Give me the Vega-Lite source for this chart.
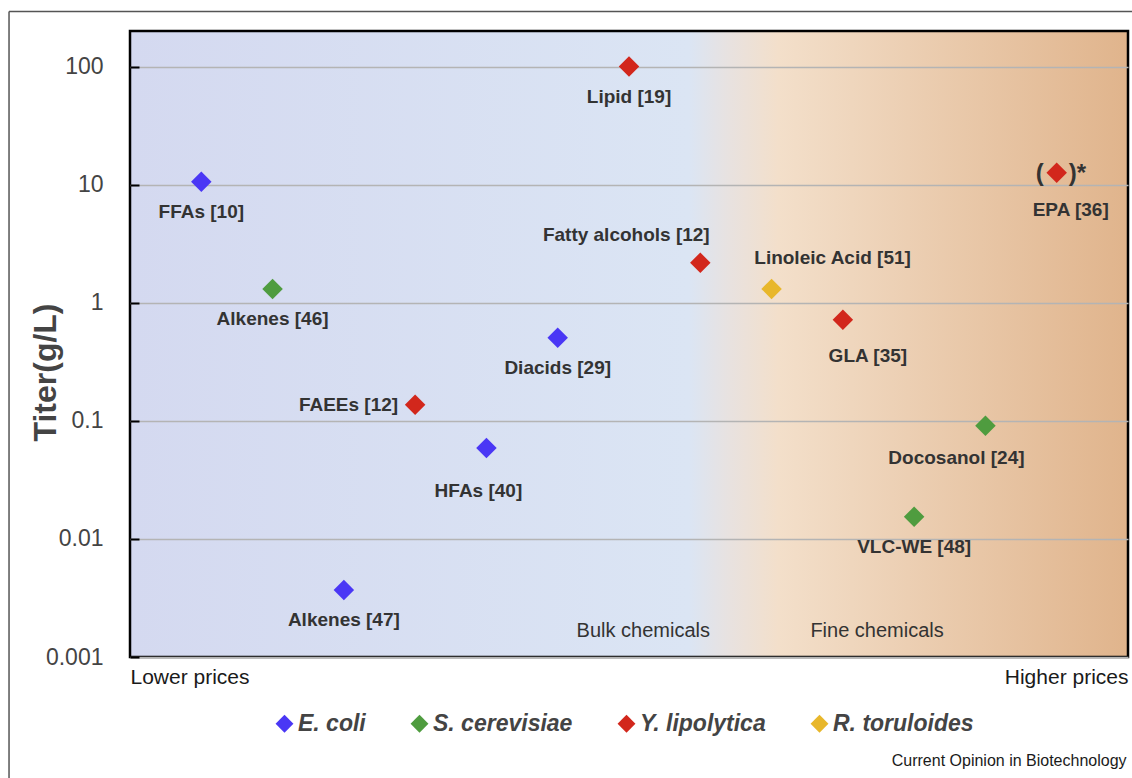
{
  "$schema": "https://vega.github.io/schema/vega-lite/v6.json",
  "width": 998,
  "height": 626,
  "autosize": "none",
  "padding": {"left": 130, "top": 31, "right": 4, "bottom": 121},
  "background": "white",
  "view": {
    "stroke": "#000000",
    "strokeWidth": 2.5,
    "fill": {
      "gradient": "linear",
      "x1": 0, "y1": 0, "x2": 1, "y2": 0,
      "stops": [
        {"offset": 0, "color": "#d4d9f0"},
        {"offset": 0.56, "color": "#dbe5f4"},
        {"offset": 0.6, "color": "#e8e2e0"},
        {"offset": 0.65, "color": "#f3dfca"},
        {"offset": 1, "color": "#e0b48c"}
      ]
    }
  },
  "config": {
    "font": "Liberation Sans",
    "text": {"font": "Liberation Sans"}
  },
  "data": {
    "values": [
      {"product": "FFAs [10]", "organism": "E. coli", "pos": 1, "titer": 10.6},
      {"product": "Alkenes [46]", "organism": "S. cerevisiae", "pos": 2, "titer": 1.31},
      {"product": "Alkenes [47]", "organism": "E. coli", "pos": 3, "titer": 0.0037},
      {"product": "FAEEs [12]", "organism": "Y. lipolytica", "pos": 4, "titer": 0.137},
      {"product": "HFAs [40]", "organism": "E. coli", "pos": 5, "titer": 0.059},
      {"product": "Diacids [29]", "organism": "E. coli", "pos": 6, "titer": 0.505},
      {"product": "Lipid [19]", "organism": "Y. lipolytica", "pos": 7, "titer": 100},
      {"product": "Fatty alcohols [12]", "organism": "Y. lipolytica", "pos": 8, "titer": 2.18},
      {"product": "Linoleic Acid [51]", "organism": "R. toruloides", "pos": 9, "titer": 1.31},
      {"product": "GLA [35]", "organism": "Y. lipolytica", "pos": 10, "titer": 0.718},
      {"product": "VLC-WE [48]", "organism": "S. cerevisiae", "pos": 11, "titer": 0.0154},
      {"product": "Docosanol [24]", "organism": "S. cerevisiae", "pos": 12, "titer": 0.0907},
      {"product": "EPA [36]", "organism": "Y. lipolytica", "pos": 13, "titer": 12.6}
    ]
  },
  "encoding": {
    "x": {
      "field": "pos",
      "type": "quantitative",
      "scale": {"domain": [0, 14], "nice": false, "zero": false},
      "axis": {
        "title": null,
        "values": [0, 14],
        "labelExpr": "datum.value == 0 ? 'Lower prices' : 'Higher prices'",
        "labelAlign": {"expr": "datum.value == 0 ? 'left' : 'right'"},
        "labelBaseline": "top",
        "labelPadding": 9,
        "labelFontSize": 21,
        "labelColor": "#1a1a1a",
        "labelFont": "Liberation Sans",
        "ticks": false,
        "domain": false,
        "grid": false
      }
    },
    "y": {
      "field": "titer",
      "type": "quantitative",
      "scale": {"type": "log", "domain": [0.001, 200], "nice": false},
      "axis": {
        "title": "Titer(g/L)",
        "titleFontSize": 32,
        "titleFontWeight": "bold",
        "titleColor": "#444444",
        "titleFont": "Liberation Sans",
        "titleX": -85,
        "titleY": 341,
        "titleAngle": -90,
        "titleAlign": "center",
        "titleBaseline": "middle",
        "values": [0.001, 0.01, 0.1, 1, 10, 100],
        "format": "~g",
        "labelFontSize": 23,
        "labelColor": "#444444",
        "labelFont": "Liberation Sans",
        "tickSize": -9,
        "tickColor": "#000000",
        "tickWidth": 2,
        "labelPadding": 36,
        "domain": false,
        "grid": true,
        "gridColor": "#b4b4b4",
        "gridWidth": 1.5
      }
    }
  },
  "layer": [
    {
      "transform": [{"filter": "datum.pos == 1"}],
      "mark": {"type": "rule", "clip": false, "color": "#555555", "strokeWidth": 1.5},
      "encoding": {
        "x": {"datum": -1.697, "type": "quantitative"},
        "y": {"datum": 292, "type": "quantitative"},
        "y2": {"datum": 0.0000945}
      }
    },
    {
      "transform": [{"filter": "datum.pos == 1"}],
      "mark": {"type": "rule", "clip": false, "color": "#555555", "strokeWidth": 1.5},
      "encoding": {
        "x": {"datum": -1.697, "type": "quantitative"},
        "x2": {"datum": 14.06},
        "y": {"datum": 292, "type": "quantitative"}
      }
    },
    {
      "transform": [{"filter": "datum.pos == 1"}],
      "mark": {"type": "text", "fontSize": 20, "color": "#333333", "baseline": "middle", "align": "center"},
      "encoding": {
        "x": {"datum": 7.2, "type": "quantitative"},
        "y": {"datum": 0.00166, "type": "quantitative"},
        "text": {"value": "Bulk chemicals"}
      }
    },
    {
      "transform": [{"filter": "datum.pos == 1"}],
      "mark": {"type": "text", "fontSize": 20, "color": "#333333", "baseline": "middle", "align": "center"},
      "encoding": {
        "x": {"datum": 10.48, "type": "quantitative"},
        "y": {"datum": 0.00166, "type": "quantitative"},
        "text": {"value": "Fine chemicals"}
      }
    },
    {
      "transform": [{"filter": "datum.pos == 1"}],
      "mark": {"type": "text", "fontSize": 16, "color": "#1a1a1a", "baseline": "middle", "align": "right", "clip": false},
      "encoding": {
        "x": {"datum": 13.98, "type": "quantitative"},
        "y": {"datum": 0.0001315, "type": "quantitative"},
        "text": {"value": "Current Opinion in Biotechnology"}
      }
    },
    {
      "mark": {"type": "point", "shape": "diamond", "filled": true, "size": 420, "opacity": 1},
      "encoding": {
        "color": {
          "field": "organism",
          "type": "nominal",
          "scale": {
            "domain": ["E. coli", "S. cerevisiae", "Y. lipolytica", "R. toruloides"],
            "range": ["#4a37f5", "#4f9c3f", "#d2271c", "#e8b72b"]
          },
          "legend": {
            "title": null,
            "orient": "none",
            "direction": "horizontal",
            "columns": 4,
            "legendX": 143,
            "legendY": 681,
            "padding": 0,
            "symbolType": "diamond",
            "symbolSize": 320,
            "symbolOpacity": 1,
            "symbolStrokeWidth": 0,
            "labelFontSize": 23,
            "labelFontWeight": "bold",
            "labelFontStyle": "italic",
            "labelColor": "#444444",
            "labelFont": "Liberation Sans",
            "labelOffset": 2,
            "columnPadding": 42
          }
        }
      }
    },
    {
      "transform": [{"filter": {"field": "product", "oneOf": ["FFAs [10]", "Alkenes [46]", "Alkenes [47]", "Diacids [29]", "Lipid [19]", "VLC-WE [48]"]}}],
      "mark": {"type": "text", "fontSize": 19, "fontWeight": "bold", "color": "#333333", "baseline": "middle", "align": "center", "dy": 30},
      "encoding": {"text": {"field": "product"}}
    },
    {
      "transform": [{"filter": "datum.product == 'FAEEs [12]'"}],
      "mark": {"type": "text", "fontSize": 19, "fontWeight": "bold", "color": "#333333", "baseline": "middle", "align": "right", "dx": -17, "dy": 0},
      "encoding": {"text": {"field": "product"}}
    },
    {
      "transform": [{"filter": "datum.product == 'HFAs [40]'"}],
      "mark": {"type": "text", "fontSize": 19, "fontWeight": "bold", "color": "#333333", "baseline": "middle", "align": "center", "dx": -8, "dy": 43},
      "encoding": {"text": {"field": "product"}}
    },
    {
      "transform": [{"filter": "datum.product == 'Fatty alcohols [12]'"}],
      "mark": {"type": "text", "fontSize": 19, "fontWeight": "bold", "color": "#333333", "baseline": "middle", "align": "center", "dx": -74, "dy": -28},
      "encoding": {"text": {"field": "product"}}
    },
    {
      "transform": [{"filter": "datum.product == 'Linoleic Acid [51]'"}],
      "mark": {"type": "text", "fontSize": 19, "fontWeight": "bold", "color": "#333333", "baseline": "middle", "align": "center", "dx": 61, "dy": -31},
      "encoding": {"text": {"field": "product"}}
    },
    {
      "transform": [{"filter": "datum.product == 'GLA [35]'"}],
      "mark": {"type": "text", "fontSize": 19, "fontWeight": "bold", "color": "#333333", "baseline": "middle", "align": "center", "dx": 25, "dy": 36},
      "encoding": {"text": {"field": "product"}}
    },
    {
      "transform": [{"filter": "datum.product == 'Docosanol [24]'"}],
      "mark": {"type": "text", "fontSize": 19, "fontWeight": "bold", "color": "#333333", "baseline": "middle", "align": "center", "dx": -29, "dy": 32},
      "encoding": {"text": {"field": "product"}}
    },
    {
      "transform": [{"filter": "datum.product == 'EPA [36]'"}],
      "mark": {"type": "text", "fontSize": 19, "fontWeight": "bold", "color": "#333333", "baseline": "middle", "align": "center", "dx": 14, "dy": 37},
      "encoding": {"text": {"field": "product"}}
    },
    {
      "transform": [{"filter": "datum.product == 'EPA [36]'"}],
      "mark": {"type": "text", "fontSize": 24, "fontWeight": "bold", "color": "#333333", "baseline": "middle", "align": "center", "dx": -17, "dy": 1},
      "encoding": {"text": {"value": "("}}
    },
    {
      "transform": [{"filter": "datum.product == 'EPA [36]'"}],
      "mark": {"type": "text", "fontSize": 24, "fontWeight": "bold", "color": "#333333", "baseline": "middle", "align": "left", "dx": 12, "dy": 1},
      "encoding": {"text": {"value": ")*"}}
    }
  ]
}
